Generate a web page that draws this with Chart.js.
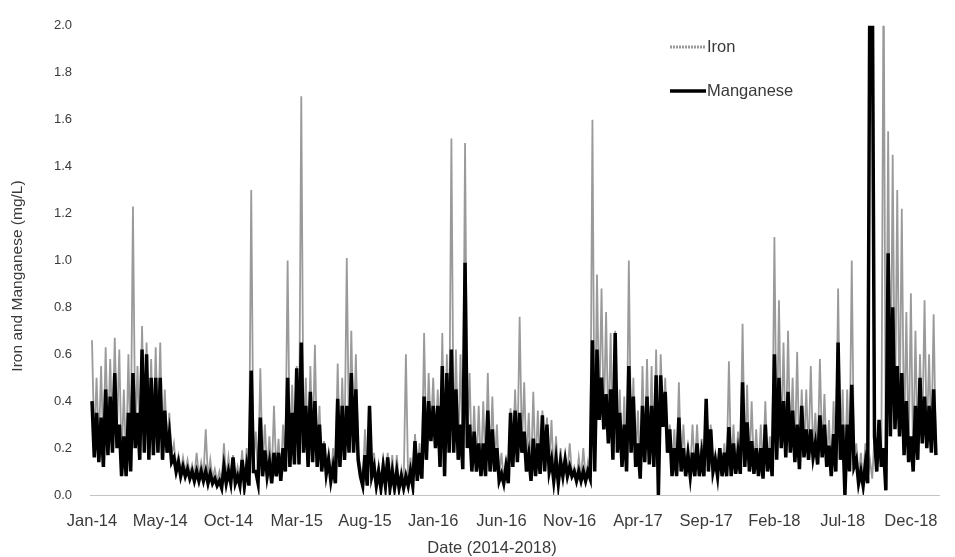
<!DOCTYPE html>
<html><head><meta charset="utf-8">
<script src="https://cdn.jsdelivr.net/npm/chart.js@4/dist/chart.umd.min.js"></script>
<style>html,body{margin:0;padding:0;background:#fff;}#wrap{width:955px;height:557px;}</style>
</head><body><div id="wrap"><canvas id="c" width="955" height="557"></canvas></div>
<script>
// x tick labels (every 150 days from 1 Jan 2014)
const tickLabels = ['Jan-14','May-14','Oct-14','Mar-15','Aug-15','Jan-16','Jun-16','Nov-16','Apr-17','Sep-17','Feb-18','Jul-18','Dec-18'];
const tickDays = [0,150,300,450,600,750,900,1050,1200,1350,1500,1650,1800];
const sampleStepDays = 5; // one reading every 5 days
const seriesNames = ['Iron','Manganese'];
const xTitle = 'Date (2014-2018)';
const yTitle = 'Iron and Manganese (mg/L)';

// Iron (mg/L), readings, 5-day spacing
const ironValues = [
0.66,0.22, 0.50,0.20, 0.55,0.18, 0.63,0.24, 0.58,0.25, 0.67,0.28, 0.62,0.14, 0.45,0.12, 0.60,0.16, 1.23,0.26,
0.55,0.20, 0.72,0.25, 0.65,0.22, 0.58,0.22, 0.63,0.24, 0.65,0.20, 0.45,0.22, 0.35,0.17, 0.22,0.12, 0.17,0.10,
0.16,0.10, 0.15,0.09, 0.13,0.08, 0.18,0.08, 0.14,0.08, 0.28,0.07, 0.15,0.07, 0.11,0.06, 0.10,0.05, 0.22,0.07,
0.16,0.07, 0.17,0.07, 0.12,0.06, 0.19,0.06, 0.20,0.06, 1.30,0.14, 0.27,0.07, 0.54,0.12, 0.30,0.10, 0.25,0.07,
0.38,0.10, 0.24,0.08, 0.30,0.12, 1.00,0.16, 0.47,0.16, 0.55,0.16, 1.70,0.22, 0.50,0.15, 0.55,0.18, 0.64,0.15,
0.38,0.12, 0.23,0.11, 0.18,0.08, 0.20,0.07, 0.56,0.15, 0.50,0.18, 1.01,0.22, 0.70,0.22, 0.60,0.18, 0.12,0.05,
0.28,0.06, 0.30,0.10, 0.18,0.05, 0.13,0.04, 0.16,0.05, 0.18,0.04, 0.17,0.04, 0.17,0.04, 0.11,0.04, 0.60,0.05,
0.16,0.05, 0.26,0.08, 0.22,0.09, 0.69,0.18, 0.52,0.26, 0.50,0.22, 0.45,0.15, 0.69,0.10, 0.60,0.20, 1.52,0.20,
0.62,0.18, 0.60,0.13, 1.50,0.22, 0.52,0.12, 0.38,0.12, 0.38,0.10, 0.40,0.10, 0.52,0.12, 0.42,0.12, 0.30,0.08,
0.18,0.06, 0.16,0.06, 0.37,0.14, 0.45,0.16, 0.76,0.20, 0.48,0.12, 0.35,0.08, 0.44,0.10, 0.36,0.11, 0.36,0.12,
0.33,0.12, 0.32,0.08, 0.25,0.07, 0.20,0.09, 0.16,0.09, 0.22,0.09, 0.12,0.07, 0.16,0.07, 0.20,0.07, 0.14,0.08,
1.60,0.12, 0.94,0.35, 0.88,0.30, 0.78,0.25, 0.69,0.18, 0.70,0.20, 0.45,0.14, 0.42,0.12, 1.00,0.20, 0.50,0.14,
0.36,0.09, 0.55,0.16, 0.58,0.15, 0.55,0.14, 0.62,0.10, 0.60,0.31, 0.50,0.20, 0.30,0.10, 0.28,0.10, 0.48,0.12,
0.30,0.10, 0.22,0.10, 0.30,0.10, 0.30,0.10, 0.24,0.10, 0.40,0.12, 0.30,0.12, 0.18,0.10, 0.20,0.10, 0.22,0.10,
0.57,0.10, 0.30,0.11, 0.27,0.11, 0.73,0.14, 0.47,0.12, 0.40,0.11, 0.28,0.10, 0.30,0.09, 0.40,0.12, 0.25,0.10,
1.10,0.17, 0.83,0.22, 0.65,0.18, 0.70,0.20, 0.50,0.16, 0.61,0.13, 0.45,0.18, 0.45,0.17, 0.55,0.18, 0.35,0.15,
0.58,0.18, 0.43,0.14, 0.32,0.10, 0.40,0.12, 0.88,0.17, 0.45,0.05, 0.45,0.12, 1.00,0.14, 0.22,0.07, 0.18,0.06,
0.22,0.07, 0.15,0.07, 0.25,0.10, 0.30,0.14, 2.30,0.04, 1.55,0.28, 1.45,0.30, 1.30,0.28, 1.22,0.20, 0.78,0.16,
0.86,0.12, 0.70,0.17, 0.60,0.24, 0.83,0.22, 0.60,0.20, 0.77,0.19
];

// Manganese (mg/L), same 5-day spacing
const manganeseValues = [
0.40,0.16, 0.35,0.14, 0.33,0.12, 0.45,0.17, 0.42,0.18, 0.52,0.20, 0.30,0.08, 0.25,0.08, 0.35,0.10, 0.52,0.20,
0.35,0.15, 0.62,0.18, 0.60,0.15, 0.50,0.17, 0.50,0.18, 0.50,0.15, 0.36,0.18, 0.26,0.14, 0.16,0.10, 0.14,0.08,
0.12,0.08, 0.11,0.07, 0.10,0.06, 0.10,0.06, 0.10,0.06, 0.10,0.05, 0.09,0.05, 0.07,0.04, 0.06,0.03, 0.12,0.05,
0.10,0.05, 0.16,0.05, 0.08,0.04, 0.15,0.04, 0.12,0.04, 0.53,0.10, 0.10,0.05, 0.33,0.08, 0.19,0.08, 0.14,0.05,
0.18,0.08, 0.18,0.06, 0.20,0.10, 0.50,0.12, 0.35,0.13, 0.54,0.13, 0.65,0.18, 0.38,0.12, 0.44,0.14, 0.40,0.12,
0.30,0.10, 0.22,0.09, 0.15,0.06, 0.12,0.05, 0.41,0.12, 0.38,0.15, 0.38,0.18, 0.52,0.18, 0.45,0.15, 0.08,0.04,
0.17,0.04, 0.38,0.08, 0.12,0.04, 0.10,0.03, 0.12,0.04, 0.16,0.03, 0.10,0.03, 0.10,0.03, 0.08,0.03, 0.08,0.04,
0.10,0.04, 0.23,0.06, 0.18,0.07, 0.42,0.15, 0.40,0.23, 0.38,0.20, 0.38,0.12, 0.55,0.08, 0.52,0.18, 0.62,0.18,
0.45,0.15, 0.30,0.11, 0.99,0.20, 0.30,0.10, 0.27,0.10, 0.22,0.08, 0.22,0.08, 0.36,0.10, 0.28,0.10, 0.20,0.06,
0.09,0.05, 0.12,0.05, 0.35,0.12, 0.36,0.14, 0.35,0.18, 0.27,0.10, 0.17,0.06, 0.24,0.08, 0.22,0.09, 0.34,0.10,
0.30,0.10, 0.15,0.06, 0.15,0.05, 0.14,0.08, 0.15,0.08, 0.12,0.08, 0.10,0.06, 0.10,0.06, 0.10,0.06, 0.10,0.07,
0.66,0.10, 0.62,0.32, 0.50,0.28, 0.43,0.22, 0.45,0.15, 0.69,0.18, 0.35,0.12, 0.30,0.10, 0.55,0.18, 0.42,0.12,
0.22,0.07, 0.38,0.14, 0.42,0.13, 0.38,0.12, 0.51,0.00, 0.51,0.29, 0.44,0.18, 0.28,0.08, 0.20,0.08, 0.33,0.10,
0.20,0.08, 0.17,0.08, 0.18,0.08, 0.22,0.08, 0.17,0.08, 0.41,0.10, 0.28,0.10, 0.15,0.08, 0.20,0.08, 0.18,0.08,
0.29,0.08, 0.22,0.09, 0.18,0.09, 0.48,0.12, 0.31,0.10, 0.23,0.09, 0.20,0.08, 0.20,0.07, 0.30,0.10, 0.20,0.08,
0.60,0.15, 0.50,0.20, 0.40,0.16, 0.44,0.18, 0.36,0.14, 0.30,0.11, 0.38,0.16, 0.28,0.15, 0.28,0.16, 0.22,0.13,
0.34,0.16, 0.30,0.12, 0.21,0.08, 0.26,0.10, 0.65,0.15, 0.30,0.00, 0.30,0.10, 0.47,0.12, 0.15,0.05, 0.10,0.04,
0.13,0.05, 2.30,2.30, 0.25,0.10, 0.32,0.12, 0.20,0.02, 1.03,0.25, 0.80,0.28, 0.55,0.25, 0.52,0.17, 0.40,0.14,
0.25,0.10, 0.38,0.15, 0.50,0.22, 0.42,0.20, 0.38,0.18, 0.45,0.17
];

const sampleDays = ironValues.map((_, i) => i * sampleStepDays);
const ironPoints = ironValues.map((v, i) => ({x: sampleDays[i], y: v}));
const mnPoints = manganeseValues.map((v, i) => ({x: sampleDays[i], y: v}));

const FONT = '"Liberation Sans", Arial, sans-serif';
const TXT = '#3a3a3a';

const overlayPlugin = {
  id: 'overlayText',
  afterDraw(chart) {
    const ctx = chart.ctx;
    const ds = chart.data.datasets;
    ctx.save();
    ctx.fillStyle = TXT;
    ctx.textBaseline = 'middle';
    // legend
    ctx.font = '16.5px ' + FONT;
    ctx.textAlign = 'left';
    ctx.strokeStyle = ds[0].borderColor; ctx.lineWidth = 3; ctx.setLineDash([2, 1]);
    ctx.beginPath(); ctx.moveTo(670, 47); ctx.lineTo(706, 47); ctx.stroke();
    ctx.setLineDash([]);
    ctx.fillText(ds[0].label, 707, 47);
    ctx.strokeStyle = ds[1].borderColor; ctx.lineWidth = 3.5;
    ctx.beginPath(); ctx.moveTo(670, 91); ctx.lineTo(706, 91); ctx.stroke();
    ctx.fillText(ds[1].label, 707, 91);
    // axis titles
    ctx.textAlign = 'center';
    ctx.fillText(xTitle, 492, 548);
    ctx.font = '15.5px ' + FONT;
    ctx.translate(18, 276);
    ctx.rotate(-Math.PI / 2);
    ctx.fillText(yTitle, 0, 0);
    ctx.restore();
  }
};

new Chart(document.getElementById('c'), {
  type: 'line',
  data: {
    datasets: [
      {label: seriesNames[0], data: ironPoints, borderColor: '#9a9a9a', borderWidth: 1.8, pointRadius: 0, tension: 0, order: 1},
      {label: seriesNames[1], data: mnPoints, borderColor: '#000000', borderWidth: 3.5, pointRadius: 0, tension: 0, order: 0}
    ]
  },
  options: {
    responsive: false,
    animation: false,
    events: [],
    layout: {padding: {top: 19, right: 15, left: 0, bottom: 0}},
    plugins: {legend: {display: false}, tooltip: {enabled: false}},
    scales: {
      x: {
        type: 'linear',
        min: -4.4, max: 1863.7,
        afterBuildTicks: s => { s.ticks = tickDays.map(v => ({value: v})); },
        afterFit: s => { s.height = 62; },
        ticks: {
          autoSkip: false, maxRotation: 0, padding: 17, color: TXT,
          font: {family: FONT, size: 16.5},
          callback: (v, i) => tickLabels[i]
        },
        grid: {display: false, drawTicks: false},
        border: {display: true, color: '#c4c4c4', dash: [1, 4], width: 1},
        title: {display: false}
      },
      y: {
        min: 0, max: 2,
        afterFit: s => { s.width = 90; },
        ticks: {stepSize: 0.2, padding: 18, color: TXT, font: {family: FONT, size: 13},
          callback: v => Number(v).toFixed(1)},
        grid: {display: false, drawTicks: false},
        border: {display: false},
        title: {display: false}
      }
    }
  },
  plugins: [overlayPlugin]
});
</script>
</body></html>
